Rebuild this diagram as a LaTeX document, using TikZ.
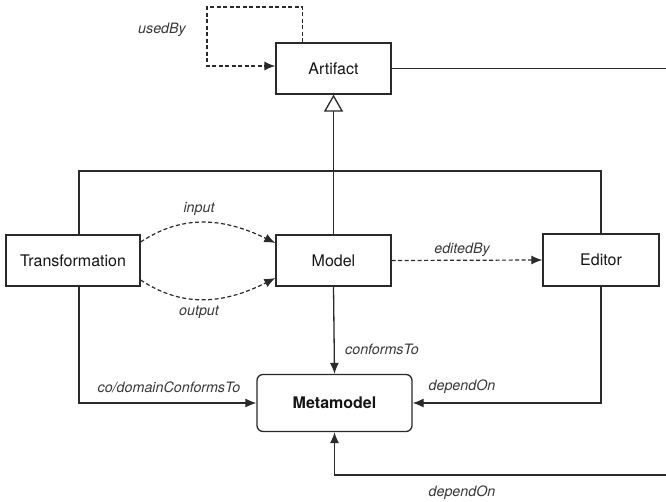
\documentclass[tikz,border=0pt]{standalone}
\usepackage{fontspec}
\setmainfont{TeX Gyre Heros}
\usetikzlibrary{arrows.meta}
\definecolor{ink}{HTML}{2A2A2A}
\definecolor{txt}{HTML}{151515}
\tikzset{
  cls/.style={draw=ink, line width=1.3pt, fill=white, minimum height=51pt, inner sep=0pt, font=\fontsize{16}{18}\selectfont, text=txt},
  meta/.style={cls, rounded corners=6pt, minimum width=155pt, minimum height=57pt, font=\fontsize{16}{18}\selectfont\bfseries},
  lbl/.style={font=\fontsize{14.3}{16}\selectfont\itshape, text=txt!85, inner sep=0pt},
  wire/.style={draw=ink, line width=1.3pt},
  rel/.style={wire, -{Latex[length=11pt,width=9pt]}},
  dep/.style={rel, line width=1.2pt, dash pattern=on 4pt off 2.5pt},
  inherit/.style={wire, -{Triangle[open, length=17pt, width=19pt, fill=white]}}
}
\begin{document}
\begin{tikzpicture}[x=1pt, y=-1pt]
  \useasboundingbox (0,0) rectangle (666,502);

  % classes
  \node[cls, minimum width=115pt] (art) at (333.5,68.5) {Artifact};
  \node[cls, minimum width=134pt] (tr) at (73,260.5) {Transformation};
  \node[cls, minimum width=115pt] (mod) at (333.5,260.5) {Model};
  \node[cls, minimum width=116pt, minimum height=52pt] (ed) at (601,260) {Editor};
  \node[meta] (mm) at (334.5,403) {Metamodel};

  % helper points
  \coordinate (loop) at (207,7);
  \coordinate (bus) at (333.5,171);
  \coordinate (rtop) at (666,70);
  \coordinate (rbot) at (666,475);

  % usedBy self relation
  \draw[dep] ([xshift=-31pt]art.north) |- (loop) |- ([yshift=2.5pt]art.west);
  \node[lbl] (lusedby) at (162,30) {usedBy};

  % artifact continues to the right
  \draw[wire] (art.east) -- (art.east -| rtop);

  % specialisations of Artifact
  \draw[wire] ([xshift=6pt]tr.north) |- (bus) -| (ed.north);
  \draw[inherit] (mod.north) -- (art.south);

  % transformation input / output
  \draw[dep] ([yshift=18.5pt]tr.east) .. controls (180,216) and (220,216) .. ([yshift=17.5pt]mod.west);
  \draw[dep] ([yshift=-19.5pt]tr.east) .. controls (180,306) and (220,306) .. ([yshift=-17.5pt]mod.west);
  \node[lbl] (linput) at (199,209) {input};
  \node[lbl] (loutput) at (199,312) {output};

  % editedBy
  \draw[dep] (mod.east) -- (ed.west);
  \node[lbl] (lediby) at (462,250) {editedBy};

  % relations to the metamodel
  \draw[rel] (mod.south) -- (mm.north);
  \node[lbl] (lconf) at (382,349) {conformsTo};

  \draw[rel] ([xshift=6pt]tr.south) |- (mm.west);
  \node[lbl] (lcodom) at (169,387) {co/domainConformsTo};

  \draw[rel] (ed.south) |- (mm.east);
  \node[lbl] (ldep1) at (462,387) {dependOn};

  \draw[rel] (rbot) -| (mm.south);
  \node[lbl] (ldep2) at (462,493) {dependOn};
\end{tikzpicture}
\end{document}
